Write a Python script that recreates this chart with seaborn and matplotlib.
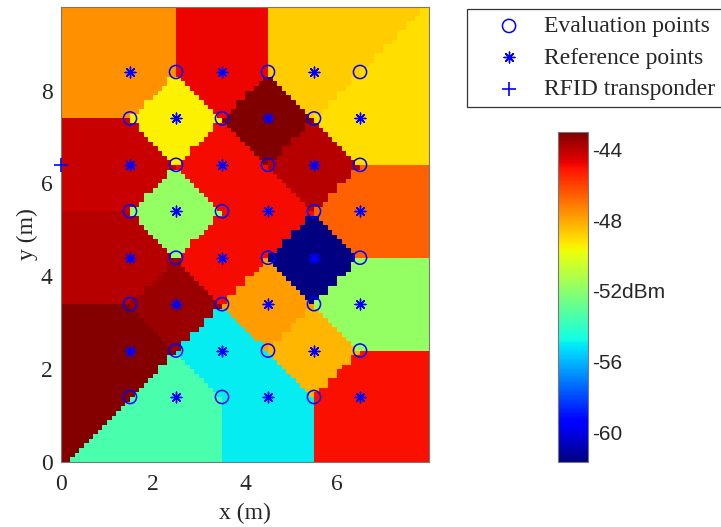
import matplotlib
matplotlib.use("Agg")
import matplotlib.pyplot as plt
import numpy as np
import seaborn as sns

# reference points (asterisks) with the received signal strength in dBm
ref_x = [1.5, 3.5, 5.5, 2.5, 4.5, 6.5, 1.5, 3.5, 5.5, 2.5, 4.5, 6.5,
         1.5, 3.5, 5.5, 2.5, 4.5, 6.5, 1.5, 3.5, 5.5, 2.5, 4.5, 6.5]
ref_y = [8.4, 8.4, 8.4, 7.4, 7.4, 7.4, 6.4, 6.4, 6.4, 5.4, 5.4, 5.4,
         4.4, 4.4, 4.4, 3.4, 3.4, 3.4, 2.4, 2.4, 2.4, 1.4, 1.4, 1.4]
ref_rss = [-47.6, -44.8, -48.7, -49.5, -43.0, -49.1,
           -44.2, -44.9, -43.9, -51.8, -44.9, -46.6,
           -43.9, -44.9, -61.7, -43.5, -47.8, -51.8,
           -43.1, -55.0, -48.3, -53.5, -55.0, -45.0]

# evaluation points (circles)
eval_x = [2.5, 4.5, 6.5, 1.5, 3.5, 5.5, 2.5, 4.5, 6.5, 1.5, 3.5, 5.5,
          2.5, 4.5, 6.5, 1.5, 3.5, 5.5, 2.5, 4.5, 6.5, 1.5, 3.5, 5.5]
eval_y = [8.4, 8.4, 8.4, 7.4, 7.4, 7.4, 6.4, 6.4, 6.4, 5.4, 5.4, 5.4,
          4.4, 4.4, 4.4, 3.4, 3.4, 3.4, 2.4, 2.4, 2.4, 1.4, 1.4, 1.4]

# RFID transponder
rfid_x = [0.0]
rfid_y = [6.4]

room_w, room_h = 8.0, 9.8
cbar_ticks = [-60, -58, -56, -54, -52, -50, -48, -46, -44]
cbar_labels = ["-60", "", "-56", "", "-52dBm", "", "-48", "", "-44"]

sns.set_style("white")
plt.rcParams["font.family"] = ["Liberation Serif", "DejaVu Serif"]

# nearest reference point on a 0.1 m grid
x_edges = np.linspace(0, room_w, 81)
y_edges = np.linspace(0, room_h, 99)
xc = (x_edges[:-1] + x_edges[1:]) / 2
yc = (y_edges[:-1] + y_edges[1:]) / 2
gx, gy = np.meshgrid(xc, yc)
d2 = (gx[..., None] - np.array(ref_x)) ** 2 + (gy[..., None] - np.array(ref_y)) ** 2
rss_map = np.array(ref_rss)[d2.argmin(axis=-1)]

fig = plt.figure(figsize=(7.21, 5.27), dpi=100)
ax = fig.add_axes([61 / 721, 65 / 527, 368 / 721, 455 / 527])
mesh = ax.pcolormesh(x_edges, y_edges, rss_map, cmap="jet",
                     vmin=min(ref_rss), vmax=max(ref_rss), shading="flat")

sns.scatterplot(x=eval_x, y=eval_y, ax=ax, marker="o", s=90,
                facecolor="none", edgecolor="blue", linewidth=1.1,
                label="Evaluation points", zorder=3)
sns.scatterplot(x=ref_x, y=ref_y, ax=ax, marker=(8, 2, 0), s=60,
                color="blue", linewidth=1.0,
                label="Reference points", zorder=3)
sns.scatterplot(x=rfid_x, y=rfid_y, ax=ax, marker="+", s=110,
                color="blue", linewidth=1.2,
                label="RFID transponder", zorder=4, clip_on=False)

ax.set_xlim(0, room_w)
ax.set_ylim(0, room_h)
ax.set_xticks([0, 2, 4, 6])
ax.set_yticks([0, 2, 4, 6, 8])
ax.tick_params(labelsize=17, length=0, pad=6)
ax.tick_params(axis="x", pad=9)
ax.set_xlabel("x (m)", fontsize=17, labelpad=5)
ax.set_ylabel("y (m)", fontsize=17, labelpad=2)
for sp in ax.spines.values():
    sp.set_edgecolor("#777777")
    sp.set_linewidth(0.8)

leg = ax.legend(loc="upper left", bbox_to_anchor=(467 / 721, 1 - 9 / 527),
                bbox_transform=fig.transFigure, fontsize=17, frameon=True,
                fancybox=False, edgecolor="black", borderpad=0.28,
                labelspacing=0.42, handlelength=3.0, handletextpad=0.0,
                borderaxespad=0.0, scatterpoints=1)
leg.get_frame().set_linewidth(0.9)

cax = fig.add_axes([558 / 721, 65 / 527, 30 / 721, 330 / 527])
cb = fig.colorbar(mesh, cax=cax)
cb.set_ticks(cbar_ticks)
cb.set_ticklabels(cbar_labels)
cb.outline.set_edgecolor("#777777")
cb.outline.set_linewidth(0.8)
cax.tick_params(direction="in", length=4, width=0.6, color="#555555",
                left=True, right=True, labelsize=15, pad=3,
                labelfontfamily="Liberation Sans")

fig.savefig("out.png", dpi=100)
